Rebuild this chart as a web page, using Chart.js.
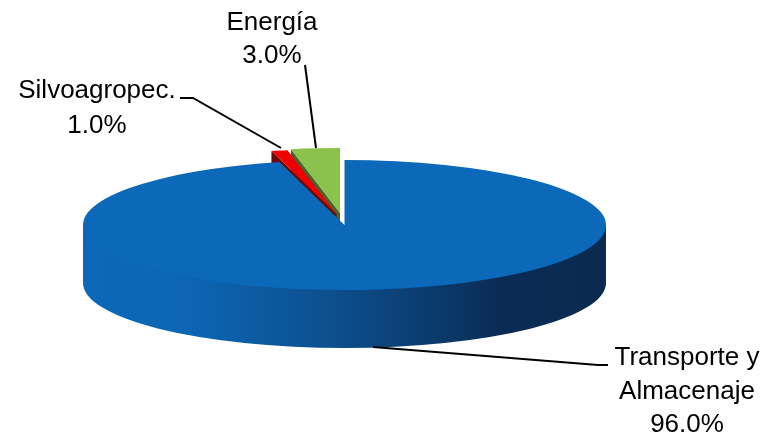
<!DOCTYPE html>
<html>
<head>
<meta charset="utf-8">
<style>
  html, body { margin: 0; padding: 0; background: #fff; }
  canvas { display: block; }
</style>
<script src="https://cdn.jsdelivr.net/npm/chart.js@4"></script>
</head>
<body>
<canvas id="pieChart" width="776" height="438"></canvas>
<script>
const categories = ["Transporte y Almacenaje", "Silvoagropec.", "Energía"];
const shares = [96.0, 1.0, 3.0];
const sliceColors = ["#0c68b8", "#f00000", "#8bc24c"];
const sideColors = [null, "#6a0808", "#46632a"];

// label lines per slice
const labelLines = [["Transporte y", "Almacenaje"], ["Silvoagropec."], ["Energía"]];

const centerX = 344.5;
const centerY = 225;
const radiusX = 261.5;
const radiusY = 65;
const depth = 58;

// how far the small slices are pulled out, in page pixels
const pullOut = [[0, 0], [-8, -11], [-4.5, -12]];

// where the labels sit: x center, first baseline, line height
const labelSpots = [
  { x: 687, y: 365, step: 33.5 },
  { x: 97, y: 98, step: 35 },
  { x: 272, y: 30, step: 33 },
];
const leaders = [
  [[373, 347], [598, 365], [608, 365]],
  [[180, 98], [193, 98], [281, 148]],
  [[305, 65], [316, 148]],
];

let pieX = 0;
let pieY = 0;

// squash the flat pie into the ellipse of the top face
function applyTilt(ctx, R) {
  ctx.translate(centerX, centerY);
  ctx.scale(radiusX / R, radiusY / R);
  ctx.translate(-pieX, -pieY);
}

const tiltedPie = {
  id: "tiltedPie",
  afterDatasetsUpdate(chart) {
    // the offset option of arcs also narrows and grows them, so move the elements instead
    const arcs = chart.getDatasetMeta(0).data;
    const R = arcs[0].outerRadius;
    pieX = arcs[0].x;
    pieY = arcs[0].y;
    arcs.forEach((el, i) => {
      el.x = pieX + pullOut[i][0] * R / radiusX;
      el.y = pieY + pullOut[i][1] * R / radiusY;
    });
  },
  beforeDatasetsDraw(chart) {
    const ctx = chart.ctx;
    const arcs = chart.getDatasetMeta(0).data;
    const R = arcs[0].outerRadius;
    const d = depth * R / radiusY;

    // outer wall of the big slice
    ctx.save();
    applyTilt(ctx, R);
    ctx.beginPath();
    ctx.moveTo(pieX + R, pieY);
    ctx.arc(pieX, pieY + d, R, 0, Math.PI);
    ctx.lineTo(pieX - R, pieY);
    ctx.closePath();
    ctx.restore();
    const grad = ctx.createLinearGradient(83, 0, 606, 0);
    grad.addColorStop(0, "#0c68b8");
    grad.addColorStop(0.2, "#0c66b4");
    grad.addColorStop(0.5, "#0c4d8a");
    grad.addColorStop(0.8, "#0a2c54");
    grad.addColorStop(1, "#0a2a50");
    ctx.fillStyle = grad;
    ctx.fill();

    // cut faces of the pulled out slices
    ctx.save();
    applyTilt(ctx, R);
    for (let i = arcs.length - 1; i > 0; i--) {
      const el = arcs[i];
      const ex = el.x + Math.cos(el.startAngle) * R;
      const ey = el.y + Math.sin(el.startAngle) * R;
      ctx.fillStyle = sideColors[i];
      ctx.beginPath();
      ctx.moveTo(el.x, el.y);
      ctx.lineTo(ex, ey);
      ctx.lineTo(ex, ey + d);
      ctx.lineTo(el.x, el.y + d);
      ctx.closePath();
      ctx.fill();
    }
    ctx.restore();

    ctx.save();
    applyTilt(ctx, R);
  },
  afterDatasetsDraw(chart) {
    const ctx = chart.ctx;
    ctx.restore();

    // leader lines
    ctx.strokeStyle = "#000";
    ctx.lineWidth = 2;
    leaders.forEach((pts) => {
      ctx.beginPath();
      pts.forEach((p, i) => (i ? ctx.lineTo(p[0], p[1]) : ctx.moveTo(p[0], p[1])));
      ctx.stroke();
    });

    // labels
    ctx.fillStyle = "#000";
    ctx.font = '26px "Liberation Sans", Arial, sans-serif';
    ctx.textAlign = "center";
    ctx.textBaseline = "alphabetic";
    labelLines.forEach((lines, i) => {
      const spot = labelSpots[i];
      const all = lines.concat(shares[i].toFixed(1) + "%");
      all.forEach((line, j) => ctx.fillText(line, spot.x, spot.y + j * spot.step));
    });
  },
};

new Chart(document.getElementById("pieChart"), {
  type: "pie",
  data: {
    labels: categories,
    datasets: [
      {
        data: shares,
        backgroundColor: sliceColors,
        borderWidth: 0,
        clip: false,
      },
    ],
  },
  options: {
    responsive: false,
    animation: false,
    plugins: {
      legend: { display: false },
      tooltip: { enabled: false },
    },
  },
  plugins: [tiltedPie],
});
</script>
</body>
</html>
